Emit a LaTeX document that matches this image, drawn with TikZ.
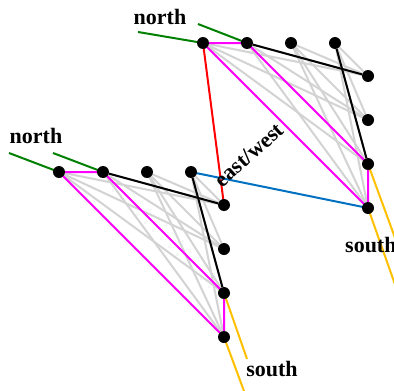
\documentclass[tikz,border=0pt]{standalone}
\usepackage{fontspec}
\setmainfont{Liberation Serif}
\usetikzlibrary{positioning,backgrounds}
\definecolor{wire}{HTML}{D3D3D3}
\definecolor{hull}{HTML}{FF00FF}
\definecolor{northc}{HTML}{008000}
\definecolor{southc}{HTML}{FFC000}
\definecolor{ewblue}{HTML}{0070C0}
\definecolor{ewred}{HTML}{FF0000}

\begin{document}
\begin{tikzpicture}[x=1pt,y=-1pt,
    dot/.style={circle,fill=black,inner sep=0pt,minimum size=12pt},
    lbl/.style={font=\fontsize{22}{25}\selectfont\bfseries},
    edge/.style={line width=2pt}]
  \useasboundingbox (0,0) rectangle (394,391);
  \clip (0,0) rectangle (394,391);
  % two blocks of dots, b is a shifted copy of a
  \foreach \g/\dx/\dy in {a/0/0,b/144/-129}{
    \foreach \i/\x in {1/59,2/103,3/147,4/191}
      \node[dot] (\g t\i) at (\x+\dx,172+\dy) {};
    \foreach \j/\y in {1/205,2/249,3/293,4/337}
      \node[dot] (\g r\j) at (224+\dx,\y+\dy) {};
  }
  \coordinate (an1) at (9,153);
  \coordinate (an2) at (53,153);
  \coordinate (bn1) at (138,32);
  \coordinate (bn2) at (198,24);
  \coordinate (as3) at (247,359);
  \coordinate (as4) at (251,410);
  \coordinate (bs3) at (398,246);
  \coordinate (bs4) at (398,293);
  \begin{scope}[on background layer]
    \foreach \g in {a,b}{
      \foreach \i in {1,...,4}
        \foreach \j in {1,...,4}
          \draw[edge,wire] (\g t\i) -- (\g r\j);
      \draw[edge,black] (\g t2) -- (\g r1);
      \draw[edge,black] (\g t4) -- (\g r3);
      \draw[edge,hull,line join=round] (\g t1.center) -- (\g t2.center)
        -- (\g r3.center) -- (\g r4.center) -- cycle;
      \draw[edge,northc] (\g n1) -- (\g t1.center);
      \draw[edge,northc] (\g n2) -- (\g t2.center);
      \draw[edge,southc] (\g r3.center) -- (\g s3);
      \draw[edge,southc] (\g r4.center) -- (\g s4);
    }
    \draw[edge,ewred] (bt1.center) -- (ar1.center);
    \draw[edge,ewblue] (at4.center) -- (br4.center);
  \end{scope}
  \node[lbl,anchor=base] (anorth) at (36,143) {north};
  \node[lbl,anchor=base] (bnorth) at (160,24) {north};
  \node[lbl,anchor=base] (asouth) at (272,376) {south};
  \node[lbl,anchor=base west,inner sep=0pt] (bsouth) at (345,252) {south};
  \node[lbl,rotate=42] (ew) at (249,155) {east/west};
\end{tikzpicture}
\end{document}
